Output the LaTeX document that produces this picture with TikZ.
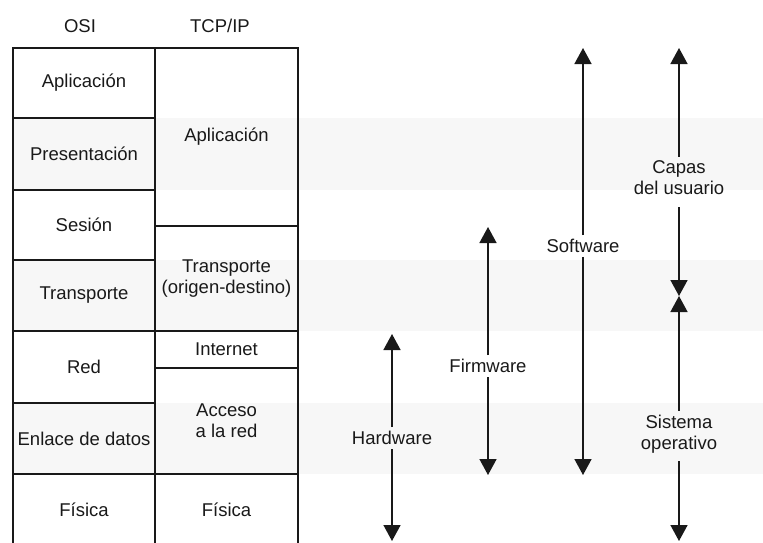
\documentclass[tikz,border=0pt]{standalone}
\usepackage{fontspec}
\setmainfont{Liberation Sans}
\usetikzlibrary{arrows.meta}
\newcommand\diagfont{\fontsize{18.5}{21}\selectfont}
\begin{document}
\begin{tikzpicture}[x=1pt,y=-1pt,
  cell/.style={draw=black!90, line width=1.8pt, inner sep=0pt, align=center,
    font=\diagfont, text=black!90},
  osi/.style={cell, minimum width=142pt},
  tcp/.style={cell, minimum width=143pt},
  head/.style={font=\diagfont, text=black!90, inner sep=0pt},
  alab/.style={font=\diagfont, text=black!90, align=center, inner sep=4pt},
  arr/.style={draw=black!90, line width=1.5pt, -{Triangle[length=16pt,width=17pt]}},
  band/.style={fill=black!3}
]
\useasboundingbox (0,0) rectangle (763,542);
% faint shaded bands
\fill[band] (13,118) rectangle (763,190);
\fill[band] (13,260) rectangle (763,331);
\fill[band] (13,403) rectangle (763,474);

% headers
\node[head] (hosi) at (80,26) {OSI};
\node[head] (htcp) at (220,26) {TCP/IP};

% OSI column
\node[osi, minimum height=70pt] (o1) at (84,83) {Aplicación};
\node[osi, minimum height=72pt] (o2) at (84,154) {Presentación};
\node[osi, minimum height=70pt] (o3) at (84,225) {Sesión};
\node[osi, minimum height=71pt] (o4) at (84,295.5) {Transporte};
\node[osi, minimum height=72pt] (o5) at (84,367) {Red};
\node[osi, minimum height=71pt] (o6) at (84,438.5) {Enlace de datos};
\node[osi, minimum height=72pt] (o7) at (84,510) {Física};

% TCP/IP column
\node[tcp, minimum height=178pt] (t1) at (226.5,137) {Aplicación};
\node[tcp, minimum height=105pt] (t2) at (226.5,278.5) {Transporte\\(origen-destino)};
\node[tcp, minimum height=37pt] (t3) at (226.5,349.5) {Internet};
\node[tcp, minimum height=106pt] (t4) at (226.5,421) {Acceso\\a la red};
\node[tcp, minimum height=72pt] (t5) at (226.5,510) {Física};

% Hardware
\coordinate (hwT) at (392,334);
\coordinate (hwB) at (392,541);
\node[alab] (hw) at (392,438) {Hardware};
\draw[arr] (hw) -- (hwT);
\draw[arr] (hw) -- (hwB);

% Firmware
\coordinate (fwT) at (488,227);
\coordinate (fwB) at (488,475);
\node[alab] (fw) at (488,366) {Firmware};
\draw[arr] (fw) -- (fwT);
\draw[arr] (fw) -- (fwB);

% Software
\coordinate (swT) at (583,48);
\coordinate (swB) at (583,475);
\node[alab] (sw) at (583,246) {Software};
\draw[arr] (sw) -- (swT);
\draw[arr] (sw) -- (swB);

% Capas del usuario
\coordinate (cuT) at (679,48);
\coordinate (mid) at (679,296);
\node[alab] (cu) at (679,178) {Capas\\del usuario};
\draw[arr] (cu) -- (cuT);
\draw[arr] ([yshift=-8pt]cu.south) -- (mid);

% Sistema operativo
\coordinate (soB) at (679,541);
\node[alab] (so) at (679,434) {Sistema\\operativo};
\draw[arr] (so) -- (mid);
\draw[arr] ([yshift=-4pt]so.south) -- (soB);
\end{tikzpicture}
\end{document}
